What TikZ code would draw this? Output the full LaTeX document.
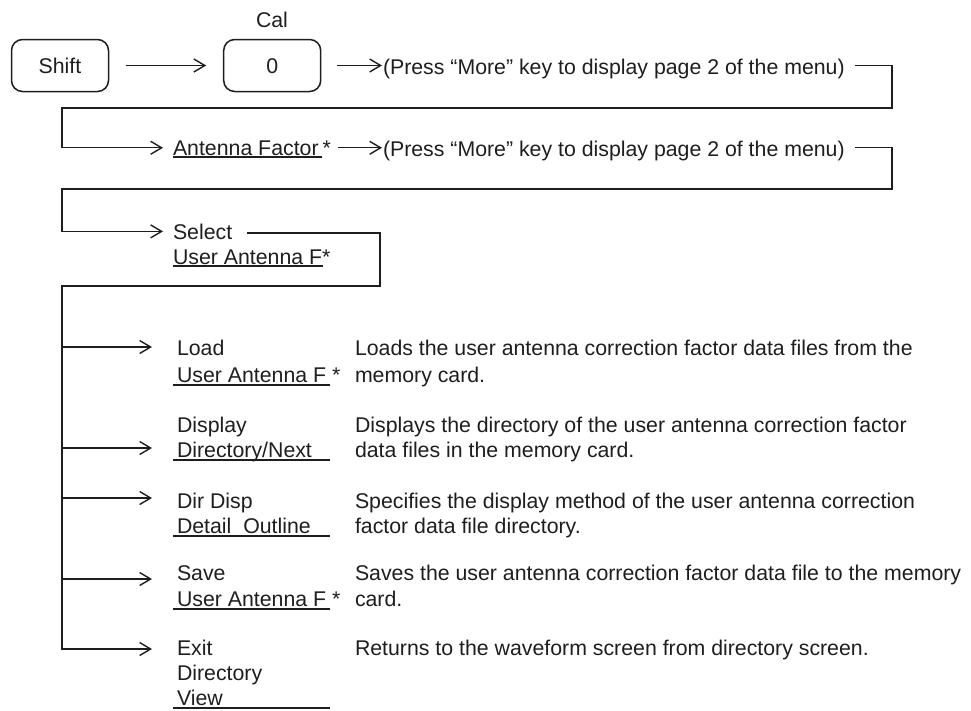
\documentclass[tikz,border=0pt]{standalone}
\usepackage{fontspec}
\setmainfont{Liberation Sans}
\usetikzlibrary{arrows.meta}
\definecolor{ink}{HTML}{1E1E1E}
\begin{document}
\begin{tikzpicture}[x=1pt,y=-1pt,
  every node/.style={inner sep=0pt, outer sep=0pt, font=\fontsize{21.3}{25}\selectfont, text=ink},
  keybox/.style={draw=ink, line width=1.5pt, rounded corners=11pt, minimum width=97pt, minimum height=52pt, text height=15pt, text depth=0pt},
  lbl/.style={anchor=base west},
  conn/.style={line width=1.4pt, draw=ink},
  arr/.style={conn, -{Straight Barb[length=11pt,width=13pt,line width=1.4pt]}},
  uline/.style={line width=1.4pt, draw=ink}]
\useasboundingbox (0,0) rectangle (971,710);

% top row
\node[keybox] (shift) at (60,65.5) {Shift};
\node[keybox] (zero) at (272.2,65.5) {0};
\node[anchor=base] (cal) at (272,27) {Cal};
\node[lbl] (press1) at (383,74) {(Press “More” key to display page 2 of the menu)};

% second row
\node[lbl] (af) at (173,155) {Antenna Factor};
\node[lbl] (afs) at ([xshift=4pt]af.base east) {*};
\node[lbl] (press2) at (383,156) {(Press “More” key to display page 2 of the menu)};

% select
\node[lbl] (sel1) at (173,239) {Select};
\node[lbl] (sel2) at (173,264) {User Antenna F*};

% items
\node[lbl] (load1) at (177,355) {Load};
\node[lbl] (load2) at (177,382) {User Antenna F *};
\node[lbl] (disp1) at (177,432) {Display};
\node[lbl] (disp2) at (177,457) {Directory/Next};
\node[lbl] (dir1) at (177,508) {Dir Disp};
\node[lbl] (dir2) at (177,533) {Detail\ \ Outline};
\node[lbl] (save1) at (177,580) {Save};
\node[lbl] (save2) at (177,606) {User Antenna F *};
\node[lbl] (exit1) at (177,655) {Exit};
\node[lbl] (exit2) at (177,680) {Directory};
\node[lbl] (exit3) at (177,705) {View};

% descriptions
\node[lbl] (d1a) at (355,355) {Loads the user antenna correction factor data files from the};
\node[lbl] (d1b) at (355,382) {memory card.};
\node[lbl] (d2a) at (355,432) {Displays the directory of the user antenna correction factor};
\node[lbl] (d2b) at (355,457) {data files in the memory card.};
\node[lbl] (d3a) at (355,508) {Specifies the display method of the user antenna correction};
\node[lbl] (d3b) at (355,533) {factor data file directory.};
\node[lbl] (d4a) at (355,580) {Saves the user antenna correction factor data file to the memory};
\node[lbl] (d4b) at (355,606) {card.};
\node[lbl] (d5a) at (355,655) {Returns to the waveform screen from directory screen.};

% underlines
\draw[uline] (af.base west) ++(0,1.8) -- ++(149,0);
\draw[uline] (sel2.base west) ++(0,1.8) -- ++(150,0);
\foreach \n in {load2,disp2,dir2,save2,exit3}
  \draw[uline] (\n.base west) ++(-4,2.8) -- ++(157,0);

% bend points
\coordinate (e1) at (892,108);
\coordinate (j1) at (62,108);
\coordinate (e2) at (892,189);
\coordinate (j2) at (62,189);
\coordinate (e3) at (380,286);
\coordinate (j3) at (62,286);

% connectors
\draw[arr, shorten <=17pt, shorten >=17.5pt] (shift) -- (zero);
\draw[arr, shorten <=16pt, shorten >=1pt] (zero.east) -- (zero.east -| press1.west);
\draw[arr, shorten >=10pt] ([xshift=10pt]press1.east |- zero.east) -| (e1) -- (j1) |- (af.west);
\draw[arr, shorten <=7pt, shorten >=1pt] (afs.east |- af.west) -- (af.west -| press2.west);
\draw[arr, shorten >=10pt] ([xshift=10pt]press2.east |- af.west) -| (e2) -- (j2) |- (sel1.west);

\path (load1.base west) ++(0,-8) coordinate (aload);
\path (disp2.base west) ++(0,-9) coordinate (adisp);
\path (dir1.base west) ++(0,-10) coordinate (adir);
\path (save1.base west) ++(0,-1) coordinate (asave);
\path (exit1.base west) ++(0,-6) coordinate (aexit);

\draw[arr, shorten >=25pt] ([xshift=15pt]sel1.east) ++(0,1.5) -| (e3) -- (j3) |- (aexit);
\foreach \a in {aload,adisp,adir,asave}
  \draw[arr, shorten >=25pt] (\a -| j3) -- (\a);
\end{tikzpicture}
\end{document}
